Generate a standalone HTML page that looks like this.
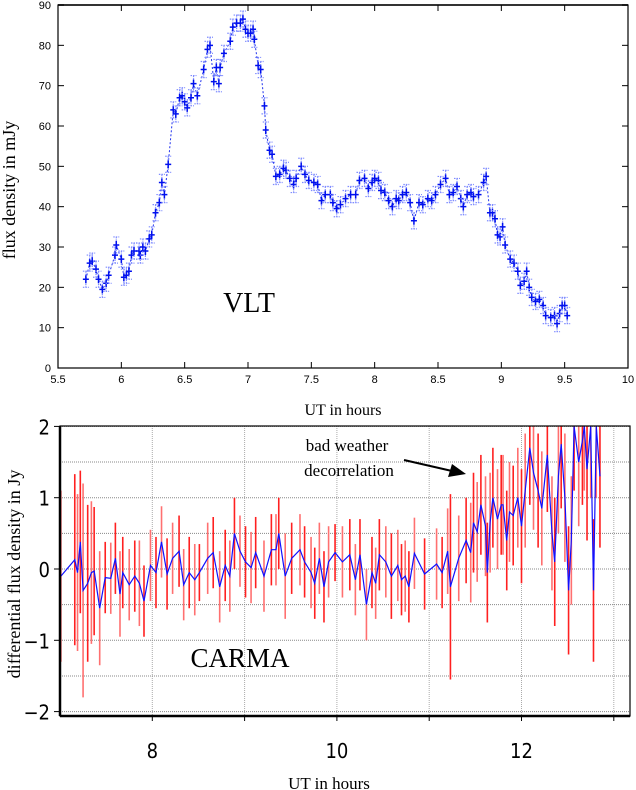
<!DOCTYPE html>
<html><head><meta charset="utf-8"><style>
html,body{margin:0;padding:0;background:#fff;}
svg{display:block;}
.tk{font-family:"Liberation Sans",sans-serif;font-size:11px;fill:#000;}
.ser{font-family:"Liberation Serif",serif;fill:#000;}
.bt{font-family:"DejaVu Sans Condensed","DejaVu Sans",sans-serif;font-size:20px;fill:#000;}
</style></head><body>
<svg id="s" width="636" height="790" viewBox="0 0 636 790" xmlns="http://www.w3.org/2000/svg">
<defs>
<clipPath id="clipB"><rect x="60" y="426" width="570" height="290"/></clipPath>
</defs>
<g id="top">
<rect x="58" y="5" width="570" height="363" fill="none" stroke="#000" stroke-width="1.2"/>
<line x1="58" y1="5" x2="628" y2="5" stroke="#333" stroke-width="2"/>
<g id="topAxes"></g>
<g id="topData"></g>
<text class="ser" x="249" y="312" font-size="28" text-anchor="middle">VLT</text>
<text class="ser" x="343" y="415" font-size="16" text-anchor="middle">UT in hours</text>
<text class="ser" x="0" y="0" font-size="18" text-anchor="middle" transform="translate(15,190) rotate(-90)">flux density in mJy</text>
</g>
<g id="bot">
<g id="botGrid"></g>
<g id="botData" clip-path="url(#clipB)"></g>
<rect x="60" y="426" width="570" height="290" fill="none" stroke="#000" stroke-width="1.2"/>
<line x1="60" y1="426" x2="60" y2="716" stroke="#000" stroke-width="2.5"/>
<line x1="60" y1="716" x2="630" y2="716" stroke="#000" stroke-width="2.5"/>
<g id="botAxes"></g>
<text class="ser" x="347" y="451" font-size="17" text-anchor="middle">bad weather</text>
<text class="ser" x="349" y="476" font-size="17" text-anchor="middle">decorrelation</text>
<line x1="404" y1="460" x2="452" y2="471" stroke="#000" stroke-width="2"/>
<polygon points="466,474 448,477 452,464" fill="#000"/>
<text class="ser" x="240" y="667" font-size="27" text-anchor="middle">CARMA</text>
<text class="ser" x="329" y="789" font-size="17" text-anchor="middle">UT in hours</text>
<text class="ser" x="0" y="0" font-size="18" text-anchor="middle" transform="translate(20,574) rotate(-90)">differential flux density in Jy</text>
</g>
</svg>
<script>
// ---- VLT data ----
const vltTime=[5.72,5.75,5.77,5.80,5.82,5.85,5.88,5.90,5.95,5.96,6.0,6.02,6.04,6.06,6.08,6.10,6.14,6.15,6.17,6.19,6.22,6.24,6.27,6.30,6.32,6.34,6.37,6.41,6.43,6.46,6.48,6.50,6.52,6.55,6.57,6.60,6.65,6.68,6.70,6.73,6.75,6.77,6.78,6.81,6.86,6.88,6.91,6.94,6.96,6.98,7.0,7.02,7.04,7.05,7.08,7.10,7.13,7.14,7.17,7.19,7.22,7.25,7.28,7.30,7.33,7.36,7.38,7.42,7.45,7.48,7.52,7.55,7.58,7.61,7.65,7.67,7.70,7.73,7.77,7.81,7.85,7.88,7.92,7.95,7.98,8.0,8.03,8.05,8.08,8.11,8.14,8.17,8.19,8.22,8.25,8.28,8.31,8.35,8.38,8.42,8.45,8.48,8.52,8.56,8.59,8.62,8.65,8.68,8.70,8.73,8.76,8.78,8.82,8.86,8.88,8.91,8.93,8.95,8.97,8.99,9.01,9.03,9.07,9.10,9.13,9.15,9.18,9.20,9.22,9.24,9.27,9.30,9.33,9.35,9.39,9.42,9.44,9.46,9.48,9.50,9.52];
const vltFlux=[22,26,26.5,24.5,22,19.5,21,23,28,30.5,27,22.5,23,24,28,29,29,28,30,29,32,33,38.5,41,46,43,50.5,64,63,67,67.5,66,64.5,67,70.5,67.5,74,79,80,71,74.5,70.5,74.5,78,81,84.5,85.5,85.5,86.5,84,83,83,84,81.5,75,74,65,59,54,53,47.5,48,49.5,49,47,45.5,47,50,48,46.5,46,45.5,41.5,43,43,41,39.5,40.5,42,43,43,46.5,47,44.5,46,47,46.5,44,43.5,41.5,40,42,41.5,43,43.5,41,36.5,41,40.5,42,41.5,43,45.5,47,43,43.5,45,42,40,43,43.5,42.5,43,46,47.5,38.5,38.5,37,33,32.5,35,30.5,27,26,24,20.5,21.5,24,20,17.5,16.5,17,15.5,13,12.5,13,11,13.5,15.5,15.5,13];
const vltErr=2;
const vltXTicks=[5.5,6,6.5,7,7.5,8,8.5,9,9.5,10];
const vltXTickLabels=["5.5","6","6.5","7","7.5","8","8.5","9","9.5","10"];
const vltYTicks=[0,10,20,30,40,50,60,70,80,90];
// ---- CARMA data ----
const carmaTime=[7.01,7.16,7.19,7.22,7.25,7.30,7.34,7.37,7.43,7.49,7.55,7.60,7.65,7.68,7.75,7.81,7.86,7.91,7.98,8.04,8.10,8.16,8.22,8.29,8.34,8.40,8.46,8.51,8.60,8.66,8.73,8.79,8.84,8.89,8.95,9.01,9.07,9.12,9.21,9.29,9.34,9.37,9.44,9.51,9.60,9.65,9.72,9.76,9.81,9.86,9.91,9.98,10.06,10.14,10.20,10.25,10.32,10.38,10.42,10.46,10.53,10.59,10.66,10.70,10.74,10.78,10.84,10.95,11.08,11.14,11.20,11.23,11.32,11.40,11.45,11.48,11.52,11.56,11.61,11.63,11.66,11.69,11.74,11.78,11.80,11.84,11.87,11.91,11.96,12.00,12.04,12.09,12.13,12.18,12.22,12.28,12.33,12.36,12.40,12.43,12.47,12.51,12.54,12.57,12.62,12.66,12.68,12.71,12.75,12.78,12.81,12.85];
const carmaFlux=[-0.1,0.13,-0.05,0.38,-0.3,-0.2,-0.05,-0.03,-0.55,-0.12,-0.13,0.15,-0.35,-0.05,-0.22,-0.1,-0.2,-0.45,0.05,-0.05,0.38,-0.07,0.15,0.25,-0.22,-0.05,-0.15,-0.05,0.15,0.23,-0.25,0.05,-0.1,0.5,0.25,0.1,0.02,0.23,-0.1,0.27,0.27,0.5,-0.1,0.15,0.27,0.1,-0.05,-0.2,0.15,-0.25,0.1,0.23,0.1,0.2,-0.15,0.2,-0.5,-0.05,-0.2,0.2,0.1,-0.1,0.05,-0.15,-0.1,-0.25,0.22,-0.07,0.07,-0.05,0.25,-0.25,0.15,0.4,0.23,0.65,0.52,0.9,0.6,-0.05,0.65,1.0,0.7,0.9,0.9,0.4,0.8,0.75,1.0,0.6,1.1,1.7,1.35,1.1,0.85,1.6,0.5,0.1,1.3,1.75,1.0,-0.3,0.4,2.0,1.5,1.8,2.0,1.4,2.0,-0.3,2.0,1.3];
const carmaErr=[1.2,1.2,1.1,1.0,1.5,1.1,1.0,0.9,0.8,0.5,0.5,0.5,0.6,0.5,0.5,0.5,0.6,0.5,0.5,0.5,0.5,0.5,0.5,0.5,0.5,0.5,0.5,0.4,0.5,0.5,0.5,0.5,0.5,0.5,0.5,0.5,0.5,0.5,0.5,0.5,0.5,0.5,0.6,0.5,0.5,0.5,0.5,0.5,0.5,0.5,0.5,0.4,0.5,0.5,0.5,0.5,0.5,0.5,0.5,0.5,0.5,0.6,0.5,0.5,0.5,0.5,0.5,0.5,0.5,0.5,0.6,1.3,0.6,0.6,0.7,0.7,0.7,0.7,0.7,0.7,0.7,0.7,0.7,0.7,0.7,0.7,0.7,0.7,0.7,0.8,0.8,0.8,0.8,0.8,0.8,0.8,0.8,0.9,0.8,0.9,0.9,0.9,0.9,0.9,0.9,0.9,0.9,1.0,1.0,1.0,1.0,1.0];
const carmaXTicks=[8,10,12];
const carmaXTickLabels=["8","10","12"];
const carmaXGrid=[8,9,10,11,12,13];
const carmaYTicks=[-2,-1,0,1,2];
const carmaYTickLabels=["\u22122","\u22121","0","1","2"];
const carmaYGrid=[-2,-1.5,-1,-0.5,0,0.5,1,1.5,2];

const NS="http://www.w3.org/2000/svg";
function mk(parent,tag,attrs){const e=document.createElementNS(NS,tag);for(const k in attrs)e.setAttribute(k,attrs[k]);parent.appendChild(e);return e;}
const tx=v=>58+(v-5.5)*(570/4.5);
const ty=v=>368-v*(363/90);
const tA=document.getElementById('topAxes');
vltXTicks.forEach((t,i)=>{
  const l=mk(tA,'line',{x1:tx(t),x2:tx(t),y1:368,y2:362,stroke:'#000'});
  
  
  const l2=mk(tA,'line',{x1:tx(t),x2:tx(t),y1:5,y2:11,stroke:'#000'});
  
  
  const tt=mk(tA,'text',{x:tx(t),y:383,'text-anchor':'middle',class:'tk'});
  tt.textContent=vltXTickLabels[i];
  
  
});
vltYTicks.forEach(t=>{
  const l=mk(tA,'line',{x1:58,x2:64,y1:ty(t),y2:ty(t),stroke:'#000'});
  
  
  const l2=mk(tA,'line',{x1:622,x2:628,y1:ty(t),y2:ty(t),stroke:'#000'});
  
  
  const tt=mk(tA,'text',{x:51,y:ty(t)+4,'text-anchor':'end',class:'tk'});
  tt.textContent=String(t);
  
  
});
const tD=document.getElementById('topData');
let pd='';
vltTime.forEach((t,i)=>{pd+=(i?'L':'M')+tx(t).toFixed(1)+' '+ty(vltFlux[i]).toFixed(1);});
const vl=mk(tD,'path',{d:pd,fill:'none',stroke:'#2233ee','stroke-width':1,'stroke-dasharray':'2,2'});


vltTime.forEach((t,i)=>{
  const x=tx(t),y=ty(vltFlux[i]),y1=ty(vltFlux[i]+vltErr),y2=ty(vltFlux[i]-vltErr);
  const g=mk(tD,'g',{});
  
  
  mk(g,'path',{d:`M${x} ${y1}L${x} ${y2}M${x-3} ${y1}L${x+3} ${y1}M${x-3} ${y2}L${x+3} ${y2}`,stroke:'#7f8cff','stroke-width':1.2,'stroke-dasharray':'1.5,1',fill:'none'});
  mk(g,'path',{d:`M${x} ${y-4}L${x} ${y+4}M${x-3} ${y}L${x+3} ${y}`,stroke:'#0010ee','stroke-width':1.5,fill:'none'});
});
const bx=v=>60+(v-7)*92.3;
const by=v=>569-v*71.3;
const bG=document.getElementById('botGrid');
carmaXGrid.forEach(t=>{
  const l=mk(bG,'line',{x1:bx(t),x2:bx(t),y1:426,y2:716,stroke:'#aaa','stroke-dasharray':'1,1'});
  
  
});
carmaYGrid.forEach(t=>{
  const l=mk(bG,'line',{x1:60,x2:630,y1:by(t),y2:by(t),stroke:'#888','stroke-dasharray':'1,1'});
  
  
});
const bA=document.getElementById('botAxes');
carmaXGrid.forEach(t=>{
  const l=mk(bA,'line',{x1:bx(t),x2:bx(t),y1:716,y2:721,stroke:'#000'});
  
  
});
carmaXTicks.forEach((t,i)=>{
  const tt=mk(bA,'text',{x:bx(t),y:758,'text-anchor':'middle',class:'bt'});
  tt.textContent=carmaXTickLabels[i];
  
  
});
carmaYTicks.forEach((t,i)=>{
  const l=mk(bA,'line',{x1:54,x2:60,y1:by(t),y2:by(t),stroke:'#000'});
  
  
  const tt=mk(bA,'text',{x:50,y:by(t)+8,'text-anchor':'end',class:'bt'});
  tt.textContent=carmaYTickLabels[i];
  
  
});
const bD=document.getElementById('botData');
carmaTime.forEach((t,i)=>{
  const x=bx(t);
  const l=mk(bD,'line',{x1:x,x2:x,y1:by(carmaFlux[i]+carmaErr[i]),y2:by(carmaFlux[i]-carmaErr[i]),stroke:i%2?'#ff2020':'#ff7070','stroke-width':1.6});
  
  
});
let pb='';
carmaTime.forEach((t,i)=>{pb+=(i?'L':'M')+bx(t).toFixed(1)+' '+by(carmaFlux[i]).toFixed(1);});
const bl=mk(bD,'path',{d:pb,fill:'none',stroke:'#1010ff','stroke-width':1.2});


</script>
</body></html>
